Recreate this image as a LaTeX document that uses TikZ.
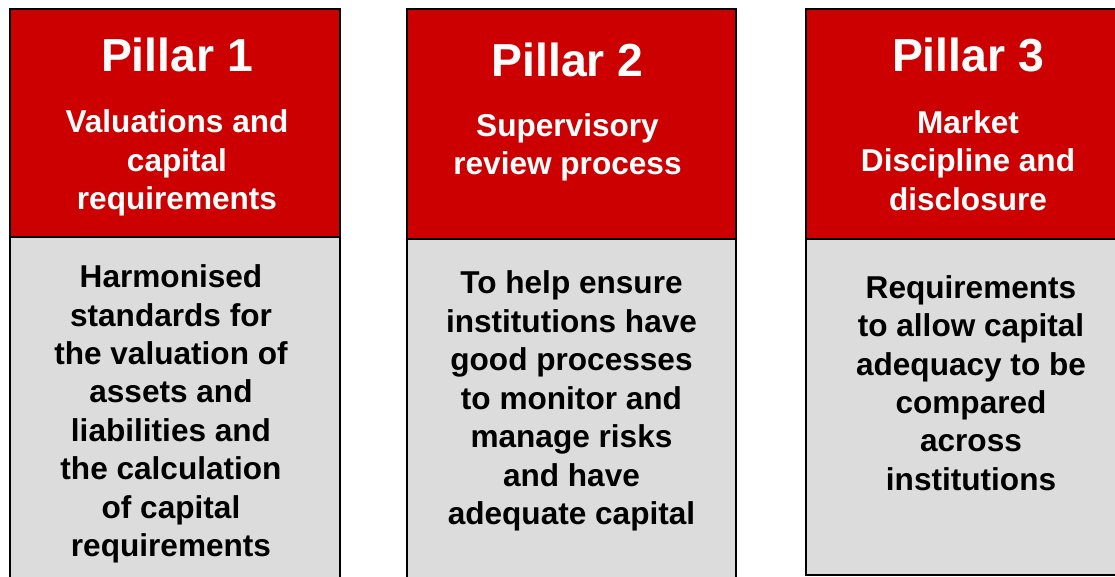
\documentclass[tikz,border=0pt]{standalone}
\usepackage{fontspec}
\setmainfont{Liberation Sans}
\definecolor{pred}{HTML}{CC0000}
\definecolor{pgrey}{HTML}{DCDCDC}
\tikzset{
  redbox/.style={fill=pred, draw=black, line width=1.5pt},
  greybox/.style={fill=pgrey, draw=black, line width=1.5pt},
  ttl/.style={text=white, font=\bfseries\fontsize{46.5}{55}\selectfont, inner sep=0pt},
  sub/.style={text=white, font=\bfseries\fontsize{31.7}{38.6}\selectfont, align=center, inner sep=0pt},
  body/.style={text=black, font=\bfseries\fontsize{31.7}{38.6}\selectfont, align=center, inner sep=0pt}
}
\begin{document}
\begin{tikzpicture}[x=1bp,y=-1bp]
\useasboundingbox[fill=white] (0,0) rectangle (1115,577);
% Pillar 1
\draw[greybox] (10,237) rectangle (340,590);
\draw[redbox] (10,9) rectangle (340,237);
% Pillar 2
\draw[greybox] (407,239) rectangle (736,590);
\draw[redbox] (407,9) rectangle (736,239);
% Pillar 3
\draw[greybox] (806,239) rectangle (1135,575);
\draw[redbox] (806,9) rectangle (1135,239);
% texts
\node[ttl] (t1) at (177,55) {Pillar 1};
\node[sub] (s1) at (177,163) {Valuations and\\capital\\requirements};
\node[body] (b1) at (171,414) {Harmonised\\standards for\\the valuation of\\assets and\\liabilities and\\the calculation\\of capital\\requirements};
\node[ttl] (t2) at (567.5,60) {Pillar 2};
\node[sub] (s2) at (567.5,147.5) {Supervisory\\review process};
\node[body] (b2) at (571.5,401) {To help ensure\\institutions have\\good processes\\to monitor and\\manage risks\\and have\\adequate capital};
\node[ttl] (t3) at (968,55) {Pillar 3};
\node[sub] (s3) at (968,160.5) {Market\\Discipline and\\disclosure};
\node[body] (b3) at (971,383) {Requirements\\to allow capital\\adequacy to be\\compared\\across\\institutions};
\end{tikzpicture}
\end{document}
